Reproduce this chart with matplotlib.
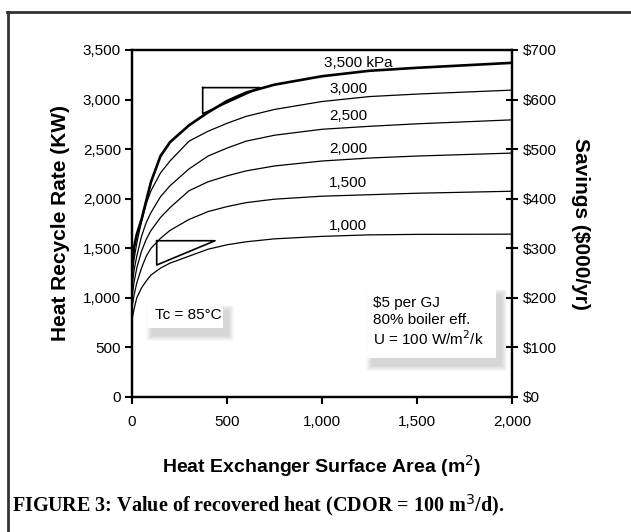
import numpy as np
import matplotlib.pyplot as plt
from matplotlib.patches import Rectangle
from matplotlib.lines import Line2D
from matplotlib.ticker import FuncFormatter

plt.rcParams['font.family'] = ['Liberation Sans', 'DejaVu Sans']

# surface area (m2)
area = [0, 10, 25, 50, 75, 100, 150, 200, 300, 400, 500, 600, 750, 1000, 1250, 1500, 1750, 2000]

# heat recycle rate (kW) per pressure
kpa_3500 = [1300, 1500, 1640, 1790, 1980, 2170, 2430, 2570, 2740, 2870, 2985, 3070, 3150, 3235, 3290, 3320, 3345, 3370]
kpa_3000 = [1200, 1380, 1550, 1770, 1950, 2080, 2260, 2380, 2580, 2680, 2760, 2830, 2900, 2980, 3030, 3055, 3075, 3095]
kpa_2500 = [1100, 1270, 1420, 1620, 1760, 1860, 2020, 2130, 2300, 2430, 2510, 2580, 2640, 2700, 2730, 2755, 2775, 2795]
kpa_2000 = [1000, 1150, 1300, 1470, 1590, 1680, 1810, 1910, 2080, 2170, 2230, 2280, 2330, 2380, 2410, 2430, 2445, 2460]
kpa_1500 = [900, 1020, 1150, 1300, 1420, 1500, 1600, 1680, 1790, 1870, 1920, 1960, 1995, 2025, 2040, 2055, 2065, 2075]
kpa_1000 = [780, 880, 1000, 1100, 1170, 1230, 1300, 1350, 1420, 1490, 1535, 1565, 1595, 1620, 1635, 1640, 1641, 1642]

series = [kpa_3500, kpa_3000, kpa_2500, kpa_2000, kpa_1500, kpa_1000]
labels = ['3,500 kPa', '3,000', '2,500', '2,000', '1,500', '1,000']
label_x = [1010, 1137, 1137, 1137, 1137, 1137]
label_y = [3365, 3102, 2834, 2497, 2161, 1725]

# small triangles drawn on the chart (area, kW)
tri_upper_x = [372, 674, 372, 372]
tri_upper_y = [3120, 3120, 2857, 3120]
tri_lower_x = [130, 437, 130, 130]
tri_lower_y = [1576, 1576, 1331, 1576]

fig = plt.figure(figsize=(6.31, 5.32), dpi=100)
ax = fig.add_axes([0.2092, 0.2538, 0.6022, 0.6523])

for i, s in enumerate(series):
    lw = 1.9 if i == 0 else 0.9
    ax.plot(area, s, color='black', lw=lw)
    ax.text(label_x[i], label_y[i], labels[i], fontsize=11, ha='center', va='center')
ax.texts[0].set_ha('left')

ax.plot(tri_upper_x, tri_upper_y, color='black', lw=1.2)
ax.plot(tri_lower_x, tri_lower_y, color='black', lw=1.2)

ax.set_xlim(0, 2000)
ax.set_ylim(0, 3500)
ax.set_xticks([0, 500, 1000, 1500, 2000])
ax.set_yticks(np.arange(0, 3501, 500))
fmt = FuncFormatter(lambda v, p: f'{int(v):,}')
ax.xaxis.set_major_formatter(fmt)
ax.yaxis.set_major_formatter(fmt)
ax.tick_params(direction='out', length=5, width=1.5, labelsize=11, pad=3)
ax.tick_params(axis='x', pad=8)
for sp in ax.spines.values():
    sp.set_linewidth(1.6)

ax2 = ax.twinx()
ax2.set_ylim(0, 700)
ax2.set_yticks(np.arange(0, 701, 100))
ax2.yaxis.set_major_formatter(FuncFormatter(lambda v, p: f'${int(v)}'))
ax2.tick_params(direction='inout', length=9, width=1.5, labelsize=11, pad=3)
for sp in ax2.spines.values():
    sp.set_linewidth(1.6)

ax.set_xlabel('Heat Exchanger Surface Area (m$^{2}$)', fontsize=14, fontweight='bold', labelpad=17)
ax.set_ylabel('Heat Recycle Rate (KW)', fontsize=15, fontweight='bold', labelpad=9)
ax2.set_ylabel('Savings ($000/yr)', fontsize=15, fontweight='bold', rotation=-90, labelpad=24)


def shadow_box(x0, y0, w, h):
    # soft drop shadow then white box, in axes fraction
    for k in range(8):
        d = 0.002 + k * 0.004
        ax.add_patch(Rectangle((x0 + 0.014 - d / 2, y0 - 0.022 - d / 2), w + d, h + d,
                               transform=ax.transAxes, facecolor='gray', edgecolor='none',
                               alpha=0.045, zorder=3))
    ax.add_patch(Rectangle((x0, y0), w, h, transform=ax.transAxes,
                           facecolor='white', edgecolor='none', zorder=4))


shadow_box(0.039, 0.199, 0.2, 0.072)
ax.text(0.06, 0.235, 'Tc = 85°C', transform=ax.transAxes, fontsize=11,
        va='center', ha='left', zorder=5)

shadow_box(0.618, 0.112, 0.34, 0.205)
ax.text(0.635, 0.215, '\\$5 per GJ\n80% boiler eff.\nU = 100 W/m$^2$/k', transform=ax.transAxes,
        fontsize=11, va='center', ha='left', zorder=5, linespacing=1.2)

# outer frame (top and left edges visible)
fig.add_artist(Line2D([7 / 631, 1], [1 - 12 / 532, 1 - 12 / 532], color='#333333', lw=2))
fig.add_artist(Line2D([8 / 631, 8 / 631], [0, 1 - 12 / 532], color='#333333', lw=2))

fig.text(12 / 631, 1 - 505 / 532, 'FIGURE 3: Value of recovered heat (CDOR = 100 m$^3$/d).',
         family='Liberation Serif', fontweight='bold', fontsize=14.5, va='center', ha='left')

fig.savefig('out.png', dpi=100)
